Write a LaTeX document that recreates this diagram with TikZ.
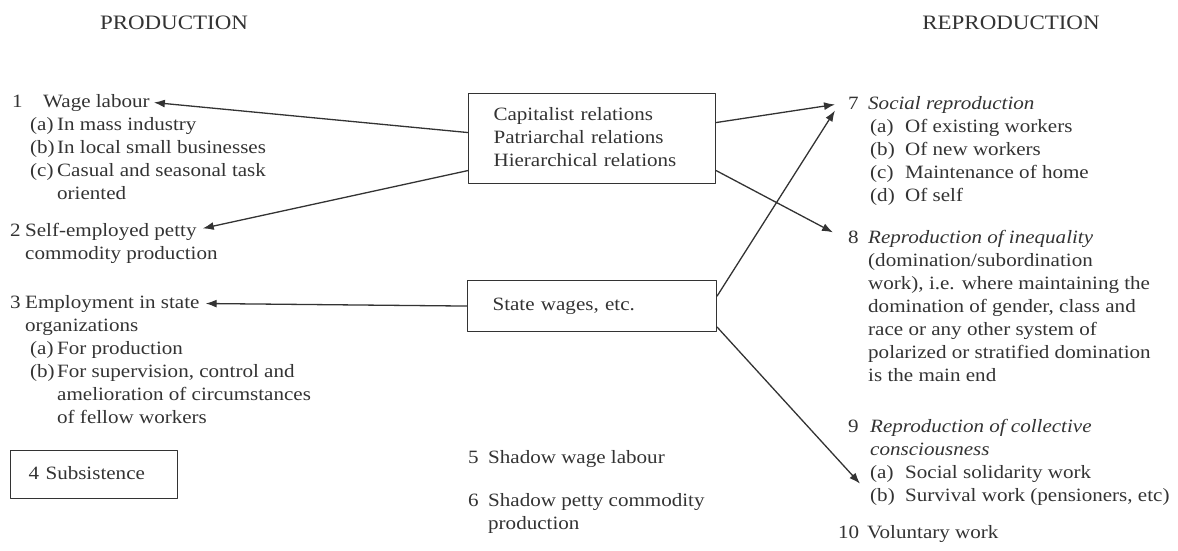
\documentclass[tikz,border=0pt]{standalone}
\usepackage{fontspec}
\setmainfont{Liberation Serif}[FakeStretch=1.12]
\usetikzlibrary{arrows.meta}
\definecolor{ink}{gray}{0.2}
\newcommand{\lbl}[2]{\makebox[#1pt][l]{#2}}
\begin{document}
\begin{tikzpicture}[x=1pt,y=-1pt,line join=round,line cap=round,
    font=\fontsize{18.8}{23}\selectfont,
    every node/.style={inner sep=0pt,text=ink},
    txt/.style={anchor=base west},
    blk/.style={anchor=north west,align=left},
    head/.style={anchor=base,font=\fontsize{20.5}{23}\selectfont},
    box/.style={draw=ink,line width=1.1pt,anchor=north west,inner xsep=25pt,align=left},
    arr/.style={draw=ink,line width=1.3pt,-{Latex[length=11pt,width=8pt]}}]
  \useasboundingbox (0,0) rectangle (1178,550);
  \node[head] (prod) at (174,29) {PRODUCTION};
  \node[head] (reprod) at (1011,29) {REPRODUCTION};
  % production side
  \node[txt] (wage) at (12,107) {\lbl{31}{1}Wage labour};
  \node[blk] (wagesub) at (30,113.9) {\strut\lbl{27}{(a)}In mass industry\\
    \lbl{27}{(b)}In local small businesses\\
    \lbl{27}{(c)}Casual and seasonal task\\
    \hspace*{27pt}oriented};
  \node[txt] (selfemp) at (10,236) {\lbl{15}{2}Self-employed petty};
  \node[txt] (selfsub) at (25,259) {commodity production};
  \node[txt] (stateemp) at (10,308) {\lbl{15}{3}Employment in state};
  \node[blk] (statesub) at (25,314.9) {\strut organizations\\
    \hspace*{5pt}\lbl{27}{(a)}For production\\
    \hspace*{5pt}\lbl{27}{(b)}For supervision, control and\\
    \hspace*{32pt}amelioration of circumstances\\
    \hspace*{32pt}of fellow workers};
  \node[box,inner xsep=18pt,text width=131pt,inner ysep=12.5pt] (subsist) at (10,450) {\strut\lbl{17}{4}Subsistence};
  % middle
  \node[box,text width=197pt,inner ysep=10.5pt] (rel) at (468,93) {\strut Capitalist relations\\
    Patriarchal relations\\
    Hierarchical relations\strut};
  \node[box,text width=199pt,inner ysep=14pt] (statewage) at (467,280) {\strut State wages, etc.};
  \node[txt] (shwage) at (468,463) {\lbl{20}{5}Shadow wage labour};
  \node[blk] (shpetty) at (468,489.9) {\strut\lbl{20}{6}Shadow petty commodity\\
    \hspace*{20pt}production};
  % reproduction side
  \node[txt] (socrep) at (848,109) {\lbl{20}{7}\textit{Social reproduction}};
  \node[blk] (socsub) at (870,115.9) {\strut\lbl{35}{(a)}Of existing workers\\
    \lbl{35}{(b)}Of new workers\\
    \lbl{35}{(c)}Maintenance of home\\
    \lbl{35}{(d)}Of self};
  \node[txt] (ineq) at (848,243) {\lbl{20}{8}\textit{Reproduction of inequality}};
  \node[blk] (ineqsub) at (868,249.9) {\strut(domination/subordination\\
    work), i.e. where maintaining the\\
    domination of gender, class and\\
    race or any other system of\\
    polarized or stratified domination\\
    is the main end};
  \node[blk] (coll) at (848,415.9) {\strut\lbl{22}{9}\textit{Reproduction of collective}\\
    \hspace*{22pt}\textit{consciousness}};
  \node[blk] (collsub) at (870,461.9) {\strut\lbl{35}{(a)}Social solidarity work\\
    \lbl{35}{(b)}Survival work (pensioners, etc)};
  \node[txt] (volwork) at (838,538) {\lbl{29}{10}Voluntary work};
  % connectors
  \draw[arr] ([yshift=6pt]rel.west) -- ([xshift=4pt]wage.east);
  \draw[arr] ([yshift=-32pt]rel.west) -- ([xshift=6pt,yshift=3pt]selfemp.east);
  \draw[arr] (statewage.west) -- ([xshift=6pt]stateemp.east);
  \draw[arr] ([yshift=16pt]rel.east) -- ([xshift=-13pt]socrep.west);
  \draw[arr] ([yshift=10pt]statewage.east) -- ([xshift=-13pt,yshift=-6pt]socrep.west);
  \draw[arr] ([yshift=-32pt]rel.east) -- ([xshift=-15pt,yshift=6pt]ineq.west);
  \draw[arr] ([yshift=-21pt]statewage.east) -- ([xshift=-10pt]collsub.west);
\end{tikzpicture}
\end{document}
